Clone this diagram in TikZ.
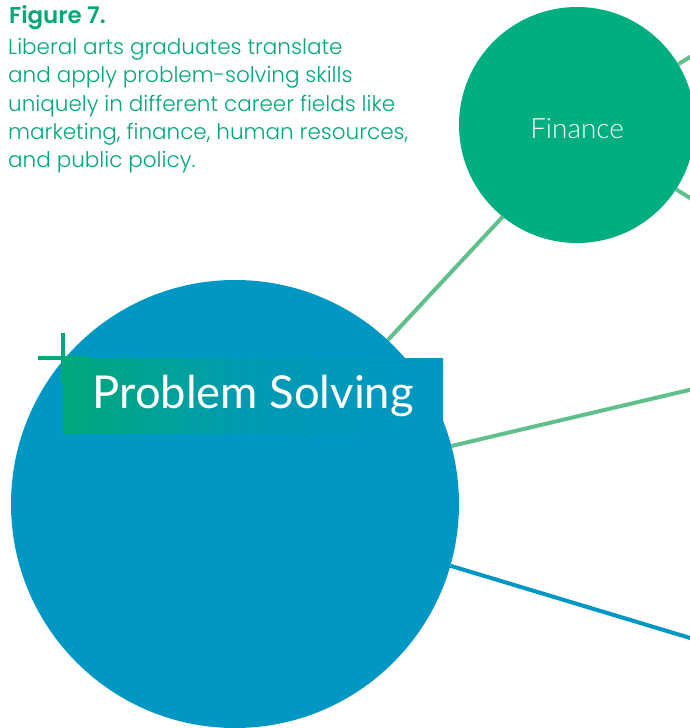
\documentclass[tikz,border=0pt]{standalone}
\usepackage{fontspec}
\setmainfont{Lato}
\newfontfamily\lightfont{Lato Light}
\newfontfamily\captionfont{Poppins}[UprightFont=* Light, BoldFont=* SemiBold]
\usetikzlibrary{positioning}
\definecolor{psblue}{RGB}{0,151,195}
\definecolor{figgreen}{RGB}{0,174,128}
\definecolor{linkgreen}{RGB}{96,192,140}
\definecolor{textgreen}{RGB}{0,168,122}

\begin{document}
\begin{tikzpicture}[x=1bp, y=-1bp, every node/.style={inner sep=0pt}]
    \tikzset{field/.style={circle, fill=figgreen, text=white, minimum size=236bp, text height=28bp, text depth=0pt, font=\lightfont\fontsize{28}{28}\selectfont},
      skill/.style={circle, fill=psblue, minimum size=448bp},
      skillbanner/.style={anchor=north west, left color=textgreen, right color=psblue, middle color=psblue!80!textgreen, text=white, minimum height=75bp, minimum width=380bp, font=\fontsize{45.5}{45.5}\selectfont},
      caption/.style={align=left, text=textgreen},
      link/.style={line width=4bp, draw=linkgreen},
      bluelink/.style={line width=4bp, draw=psblue},
      plusmark/.style={line width=4.5bp, draw=textgreen}}
    \clip (0,0) rectangle (690,728);
    \node[caption, anchor=base west, font=\captionfont\bfseries\fontsize{23}{23}\selectfont] (title) at (9,24) {Figure 7.};
    \node[caption, anchor=north west, font=\captionfont\fontsize{21.6}{28.5}\selectfont] (body) at (8,38) {Liberal arts graduates translate\\and apply problem-solving skills\\uniquely in different career fields like\\marketing, finance, human resources,\\and public policy.};
    \node[skill] (P) at (235,504) {};
    \node[field] (F) at (577,125) {Finance};
    % links leaving the picture
    \coordinate (upper) at (740,27);
    \coordinate (lower) at (740,229);
    \coordinate (mid) at (740,378);
    \coordinate (low) at (740,653);
    \draw[link] (F.231) -- (P.47);
    \draw[link] (F.31) -- (upper);
    \draw[link] (F.-33) -- (lower);
    \draw[link] (P.15) -- (mid);
    \draw[bluelink] (P.-16) -- (low);
    \node[skillbanner] (PS) at (63,358) {Problem Solving};
    \draw[plusmark] ([xshift=-25bp]PS.north west) -- ([xshift=26bp]PS.north west);
    \draw[plusmark] ([yshift=25bp]PS.north west) -- ([yshift=-25bp]PS.north west);
\end{tikzpicture}
\end{document}
